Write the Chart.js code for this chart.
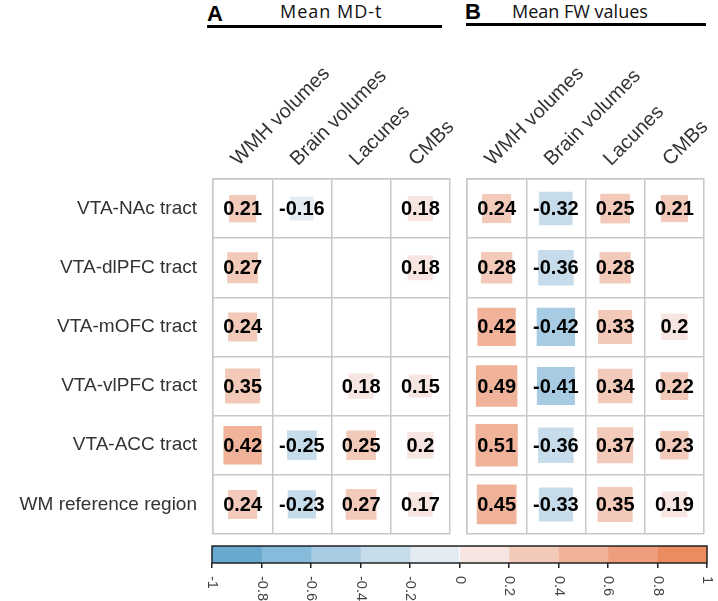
<!DOCTYPE html>
<html>
<head>
<meta charset="utf-8">
<script src="https://cdn.jsdelivr.net/npm/chart.js@4/dist/chart.umd.min.js"></script>
<style>
  body { margin: 0; background: #fff; }
  #wrap { position: relative; width: 718px; height: 601px; overflow: hidden; }
  canvas { position: absolute; }
  .tag { position: absolute; font-family: "Liberation Sans", Arial, sans-serif; font-weight: bold; font-size: 22px; color: #000; }
  .head { position: absolute; font-family: "Open Sans", sans-serif; font-size: 18px; color: #111; }
  .rule { position: absolute; height: 3px; background: #000; }
</style>
</head>
<body>
<div id="wrap">
  <div class="tag" style="left:207px; top:1px;">A</div>
  <div class="head" style="left:280px; top:-1px; letter-spacing:1px;">Mean MD-t</div>
  <div class="rule" style="left:207px; top:25px; width:235px;"></div>
  <div class="tag" style="left:465px; top:-1px;">B</div>
  <div class="head" style="left:512px; top:-1px;">Mean FW values</div>
  <div class="rule" style="left:466px; top:23px; width:240px;"></div>

  <canvas id="panelA" width="470" height="505" style="left:0; top:30px;"></canvas>
  <canvas id="panelB" width="258" height="505" style="left:460px; top:30px;"></canvas>
  <canvas id="colorbar" width="518" height="61" style="left:200px; top:540px;"></canvas>
</div>
<script>
// rows / columns of both panels
const rowLabels = ['VTA-NAc tract', 'VTA-dlPFC tract', 'VTA-mOFC tract', 'VTA-vlPFC tract', 'VTA-ACC tract', 'WM reference region'];
const colLabels = ['WMH volumes', 'Brain volumes', 'Lacunes', 'CMBs'];

// A: mean MD-t (null = blank cell)
const mdtValues = [
    [0.21, -0.16, null, 0.18],
    [0.27, null, null, 0.18],
    [0.24, null, null, null],
    [0.35, null, 0.18, 0.15],
    [0.42, -0.25, 0.25, 0.2],
    [0.24, -0.23, 0.27, 0.17]
];

// B: mean FW values
const fwValues = [
    [0.24, -0.32, 0.25, 0.21],
    [0.28, -0.36, 0.28, null],
    [0.42, -0.42, 0.33, 0.2],
    [0.49, -0.41, 0.34, 0.22],
    [0.51, -0.36, 0.37, 0.23],
    [0.45, -0.33, 0.35, 0.19]
];

// colour bar bins
const binEdges = [-1, -0.8, -0.6, -0.4, -0.2, 0, 0.2, 0.4, 0.6, 0.8, 1];
const binColors = ['#67a9cf', '#87bbdb', '#a7cbe2', '#c7dcea', '#e5ecf1', '#f6e5e0', '#f3c9b9', '#f0b39a', '#ee9e7d', '#ec8a60'];

const gridColor = '#c8c8c8';

function colorFor(v) {
    const k = Math.ceil(Math.abs(v) / 0.2) - 1;
    return v > 0 ? binColors[5 + k] : binColors[4 - k];
}

function makeCells(values) {
    const out = [];
    values.forEach((row, i) => {
        row.forEach((v, j) => {
            if (v !== null) out.push({ x: colLabels[j], y: rowLabels[i], v: v });
        });
    });
    return out;
}

// numbers on top of the squares
const valueLabels = {
    id: 'valueLabels',
    afterDatasetsDraw(chart) {
        const ctx = chart.ctx;
        const meta = chart.getDatasetMeta(0);
        const data = chart.data.datasets[0].data;
        ctx.save();
        ctx.font = 'bold 20px "Liberation Sans"';
        ctx.fillStyle = '#000';
        ctx.textAlign = 'center';
        ctx.textBaseline = 'middle';
        meta.data.forEach((el, i) => {
            ctx.fillText(String(data[i].v), el.x, el.y + 1);
        });
        ctx.restore();
    }
};

function makePanel(id, values, showRows, yWidth, padRight) {
    return new Chart(document.getElementById(id), {
        type: 'scatter',
        data: {
            datasets: [{
                data: makeCells(values),
                pointStyle: 'rect',
                borderWidth: 0,
                backgroundColor: ctx => colorFor(ctx.raw.v),
                pointRadius: ctx => {
                    const cell = ctx.chart.scales.x.width / colLabels.length;
                    return cell * Math.sqrt(Math.abs(ctx.raw.v)) / Math.SQRT2;
                }
            }]
        },
        options: {
            responsive: false,
            animation: false,
            events: [],
            layout: { padding: { right: padRight, bottom: 1 } },
            plugins: { legend: { display: false }, tooltip: { enabled: false } },
            scales: {
                x: {
                    type: 'category',
                    labels: colLabels,
                    position: 'top',
                    offset: true,
                    grid: { offset: true, color: gridColor, lineWidth: 1.5, drawTicks: false },
                    border: { color: gridColor, width: 1.5 },
                    ticks: {
                        minRotation: 45, maxRotation: 45, autoSkip: false,
                        padding: 8, labelOffset: 9, color: '#333',
                        font: { family: 'Liberation Sans', size: 20 }
                    },
                    afterFit(s) { s.height = 149; s.paddingLeft = 0; s.paddingRight = 0; }
                },
                y: {
                    type: 'category',
                    labels: rowLabels,
                    offset: true,
                    grid: { offset: true, color: gridColor, lineWidth: 1.5, drawTicks: false },
                    border: { color: gridColor, width: 1.5 },
                    ticks: { display: showRows, padding: 16, color: '#333', font: { family: 'Liberation Sans', size: 19 } },
                    afterFit(s) { s.width = yWidth; s.paddingTop = 0; s.paddingBottom = 0; }
                }
            }
        },
        plugins: [valueLabels]
    });
}

makePanel('panelA', mdtValues, true, 213, 20);
makePanel('panelB', fwValues, false, 7, 14);

// colour bar: outline plus tick labels turned clockwise
const barDecor = {
    id: 'barDecor',
    afterDraw(chart) {
        const ctx = chart.ctx;
        const a = chart.chartArea;
        const sx = chart.scales.x;
        ctx.save();
        ctx.strokeStyle = '#222';
        ctx.lineWidth = 1.5;
        ctx.strokeRect(a.left, a.top, a.right - a.left, a.bottom - a.top);
        ctx.fillStyle = '#444';
        ctx.font = '14.5px "Liberation Sans"';
        ctx.textAlign = 'left';
        ctx.textBaseline = 'middle';
        sx.ticks.forEach(t => {
            const x = sx.getPixelForValue(t.value);
            ctx.save();
            ctx.translate(x, a.bottom + 13);
            ctx.rotate(Math.PI / 2);
            ctx.fillText(String(Math.round(t.value * 10) / 10), 0, 0);
            ctx.restore();
        });
        ctx.restore();
    }
};

new Chart(document.getElementById('colorbar'), {
    type: 'bar',
    data: {
        labels: ['scale'],
        datasets: binColors.map((c, i) => ({
            data: [[binEdges[i], binEdges[i + 1]]],
            backgroundColor: c,
            borderWidth: 0
        }))
    },
    options: {
        indexAxis: 'y',
        responsive: false,
        animation: false,
        events: [],
        grouped: false,
        barPercentage: 1,
        categoryPercentage: 1,
        layout: { padding: { left: 12, right: 11, top: 6 } },
        plugins: { legend: { display: false }, tooltip: { enabled: false } },
        scales: {
            x: {
                type: 'linear',
                min: -1,
                max: 1,
                grid: { drawOnChartArea: false, drawTicks: true, tickLength: 5, color: '#222', lineWidth: 1.5 },
                border: { display: false },
                ticks: { display: false, stepSize: 0.2 },
                afterFit(s) { s.height = 38; }
            },
            y: { display: false }
        }
    },
    plugins: [barDecor]
});
</script>
</body>
</html>
